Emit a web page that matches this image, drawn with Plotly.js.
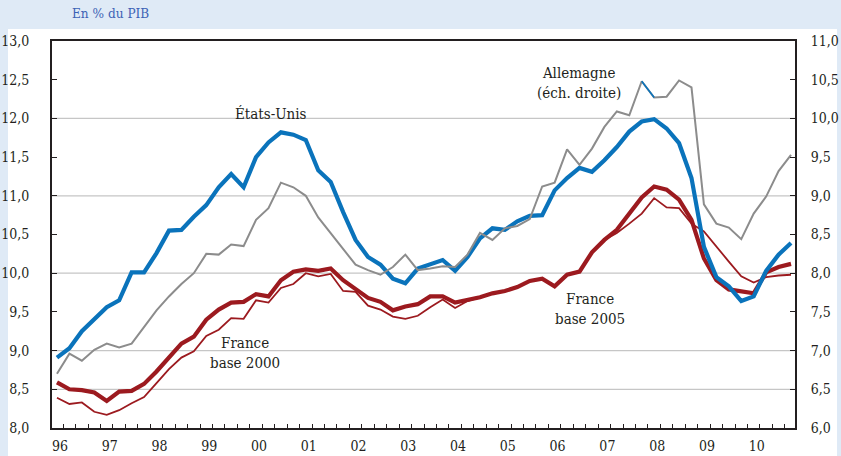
<!DOCTYPE html>
<html>
<head>
<meta charset="utf-8">
<script src="https://cdn.plot.ly/plotly-3.0.1.min.js"></script>
<style>html,body{margin:0;padding:0;background:#dfeaf6;}#chart{width:841px;height:456px;}</style>
</head>
<body>
<div id="chart"></div>
<script>
// ---- Data (quarterly, 1996Q1 - 2010Q4) ----
var startYear = 1996;
var nQuarters = 60;
var yearLabels = ["96","97","98","99","00","01","02","03","04","05","06","07","08","09","10"];

// États-Unis (left axis, % of GDP)
var etatsUnis = [
  8.91, 9.03, 9.25, 9.40,
  9.56, 9.65, 10.01, 10.01,
  10.26, 10.55, 10.56, 10.73,
  10.88, 11.11, 11.28, 11.11,
  11.50, 11.69, 11.82, 11.79,
  11.72, 11.33, 11.18, 10.79,
  10.43, 10.21, 10.11, 9.93,
  9.87, 10.06, 10.12, 10.17,
  10.03, 10.21, 10.45, 10.58,
  10.56, 10.67, 10.74, 10.75,
  11.07, 11.23, 11.36, 11.31,
  11.46, 11.63, 11.83, 11.96,
  11.99, 11.87, 11.68, 11.23,
  10.34, 9.95, 9.83, 9.64,
  9.70, 10.03, 10.24, 10.39
];

// Allemagne (right axis)
var allemagne = [
  6.70, 6.96, 6.87, 7.01,
  7.09, 7.04, 7.09, 7.31,
  7.52, 7.70, 7.86, 8.00,
  8.25, 8.24, 8.37, 8.35,
  8.69, 8.84, 9.17, 9.11,
  9.00, 8.72, 8.52, 8.32,
  8.11, 8.04, 7.98, 8.08,
  8.24, 8.04, 8.06, 8.09,
  8.08, 8.24, 8.52, 8.43,
  8.58, 8.61, 8.70, 9.12,
  9.17, 9.60, 9.40, 9.61,
  9.89, 10.09, 10.04, 10.48,
  10.27, 10.28, 10.49, 10.40,
  8.89, 8.64, 8.59, 8.44,
  8.77, 8.99, 9.32, 9.53
];

// France base 2005 (thick)
var franceBase2005 = [
  8.59, 8.50, 8.49, 8.46,
  8.35, 8.47, 8.48, 8.57,
  8.73, 8.91, 9.09, 9.18,
  9.40, 9.53, 9.62, 9.63,
  9.73, 9.70, 9.91, 10.02,
  10.05, 10.03, 10.06, 9.91,
  9.80, 9.68, 9.63, 9.52,
  9.57, 9.60, 9.70, 9.70,
  9.62, 9.65, 9.69, 9.74,
  9.77, 9.82, 9.90, 9.93,
  9.83, 9.98, 10.02, 10.27,
  10.43, 10.56, 10.77, 10.98,
  11.12, 11.08, 10.95, 10.69,
  10.19, 9.91, 9.79, 9.76,
  9.74, 10.01, 10.08, 10.12
];

// France base 2000 (thin)
var franceBase2000 = [
  8.39, 8.31, 8.33, 8.21,
  8.17, 8.23, 8.32, 8.40,
  8.58, 8.76, 8.91, 8.99,
  9.19, 9.27, 9.42, 9.41,
  9.65, 9.62, 9.81, 9.86,
  10.00, 9.96, 9.99, 9.77,
  9.76, 9.58, 9.53, 9.44,
  9.41, 9.45, 9.56, 9.66,
  9.55, 9.64, 9.69, 9.74,
  9.77, 9.82, 9.90, 9.93,
  9.83, 9.98, 10.02, 10.27,
  10.43, 10.52, 10.64, 10.77,
  10.97, 10.85, 10.84, 10.64,
  10.54, 10.34, 10.15, 9.96,
  9.88, 9.95, 9.97, 9.98
];

var gridLevels = [8.5, 9.0, 10.0, 11.0, 12.0];

// ---- Build ----
var xq = [];
for (var i = 0; i < nQuarters; i++) xq.push(startYear + i * 0.25);
var yearPos = yearLabels.map(function (l, k) { return startYear + k + 0.06; });

var blue = '#0a73bb', gray = '#8c8c8c', red = '#9c1a1f', ink = '#231f20';
var FONT = 'DejaVu Serif Condensed, DejaVu Serif, serif';

var traces = [
  {x: xq, y: allemagne, yaxis: 'y2', mode: 'lines', line: {color: gray, width: 2}},
  {x: xq.slice(47, 49), y: allemagne.slice(47, 49), yaxis: 'y2', mode: 'lines', line: {color: blue, width: 1.6}},
  {x: xq, y: franceBase2000, mode: 'lines', line: {color: red, width: 1.8}},
  {x: xq, y: franceBase2005, mode: 'lines', line: {color: red, width: 4.2}},
  {x: xq, y: etatsUnis, mode: 'lines', line: {color: blue, width: 4.2}}
];

var L = 52, R = 795, T = 41, B = 428;
function px(x) { return (x - L) / (R - L); }
function py(y) { return (B - y) / (B - T); }

var shapes = [
  {type: 'rect', xref: 'paper', yref: 'paper', x0: px(8), x1: px(837), y0: py(470), y1: py(29),
   fillcolor: '#ffffff', line: {width: 0}, layer: 'below'}
];
gridLevels.forEach(function (g) {
  shapes.push({type: 'line', xref: 'paper', yref: 'y', x0: 0, x1: 1, y0: g, y1: g,
    line: {color: '#c6c6c6', width: 1.2}, layer: 'below'});
});

function ann(text, x, y, col, size) {
  return {text: text, xref: 'paper', yref: 'paper', x: px(x), y: py(y), xanchor: 'center', yanchor: 'middle',
          showarrow: false, font: {family: FONT, size: size || 15, color: col || ink}};
}
var annotations = [
  ann('États-Unis', 271, 114),
  ann('Allemagne<br>(éch. droite)', 579, 83),
  ann('France<br>base 2000', 245, 353),
  ann('France<br>base 2005', 590, 309),
  ann('En % du PIB', 110, 13, '#3c62b5', 13.5)
];

var tickFont = {family: FONT, size: 14, color: ink};

var layout = {
  width: 841, height: 456,
  paper_bgcolor: '#dfeaf6', plot_bgcolor: 'rgba(0,0,0,0)',
  margin: {l: L, r: 841 - R, t: T, b: 456 - B, pad: 0},
  separators: ', ',
  showlegend: false,
  font: {family: FONT, color: ink},
  xaxis: {
    range: [1995.90, 2010.83], tickmode: 'array', tickvals: yearPos, ticktext: yearLabels,
    ticks: '', showline: true, mirror: true, linecolor: ink, linewidth: 2,
    showgrid: false, zeroline: false, tickfont: tickFont, ticklabelstandoff: 4,
    minor: {tickmode: 'linear', tick0: 1996.125, dtick: 0.25, ticks: 'inside', ticklen: 4,
            tickcolor: ink, tickwidth: 1, showgrid: false}
  },
  yaxis: {
    range: [8, 13], tickmode: 'linear', tick0: 8, dtick: 0.5, tickformat: '.1f',
    ticks: 'inside', ticklen: 5, tickcolor: ink, tickwidth: 1,
    showline: true, linecolor: ink, linewidth: 2, showgrid: false, zeroline: false,
    tickfont: tickFont, ticklabelstandoff: 18
  },
  yaxis2: {
    range: [6, 11], overlaying: 'y', side: 'right', tickmode: 'linear', tick0: 6, dtick: 0.5, tickformat: '.1f',
    ticks: 'inside', ticklen: 5, tickcolor: ink, tickwidth: 1,
    showline: true, linecolor: ink, linewidth: 2, showgrid: false, zeroline: false,
    tickfont: tickFont, ticklabelstandoff: 11
  },
  shapes: shapes,
  annotations: annotations
};

Plotly.newPlot('chart', traces, layout, {staticPlot: true, displayModeBar: false});
</script>
</body>
</html>
